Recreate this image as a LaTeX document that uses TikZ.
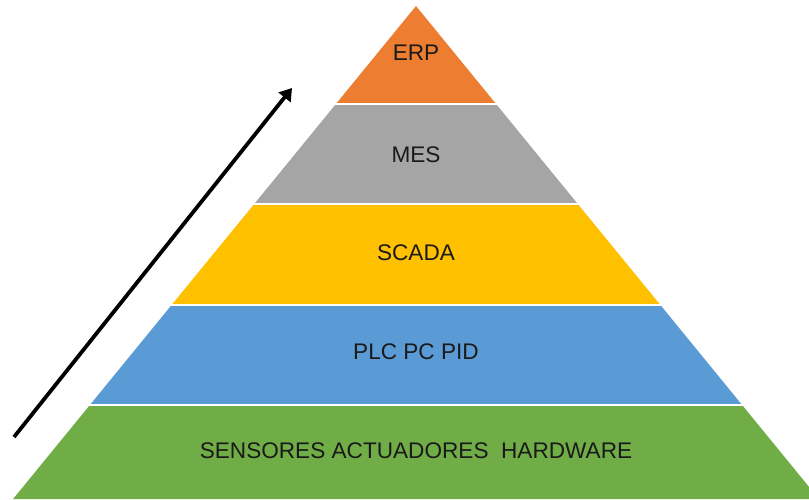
\documentclass[tikz,border=0pt]{standalone}
\usepackage{fontspec}
\setmainfont{Liberation Sans}
\usetikzlibrary{arrows.meta}
\definecolor{erpc}{HTML}{ED7D31}
\definecolor{mesc}{HTML}{A5A5A5}
\definecolor{scadac}{HTML}{FFC000}
\definecolor{plcc}{HTML}{5B9BD5}
\definecolor{sensc}{HTML}{70AD47}
\definecolor{txtc}{HTML}{1A1A1A}
\begin{document}
\begin{tikzpicture}[x=1pt,y=-1pt,
  lbl/.style={font=\fontsize{22.6}{26}\selectfont,text=txtc,inner sep=0pt}]
\useasboundingbox (0,0) rectangle (809,499);
\begin{scope}
\clip (0,0) rectangle (809,499);
% pyramid layers: apex (416,6), half-width grows 0.8174 per unit of depth
\fill[erpc]   (416,6) -- (496.1,104) -- (335.9,104) -- cycle;
\fill[mesc]   (335.9,104) -- (496.1,104) -- (577.8,204) -- (254.2,204) -- cycle;
\fill[scadac] (254.2,204) -- (577.8,204) -- (660.4,305) -- (171.6,305) -- cycle;
\fill[plcc]   (171.6,305) -- (660.4,305) -- (742.1,405) -- (89.9,405) -- cycle;
\fill[sensc]  (89.9,405) -- (742.1,405) -- (818.9,499) -- (13.1,499) -- cycle;
% white separators between layers
\draw[white,line width=1.6pt] (330,104) -- (502,104);
\draw[white,line width=1.6pt] (248,204) -- (584,204);
\draw[white,line width=1.6pt] (165,305) -- (667,305);
\draw[white,line width=1.6pt] (83,405) -- (749,405);
\end{scope}
\node[lbl] (erp)  at (416,53)  {ERP};
\node[lbl] (mes)  at (416,155) {MES};
\node[lbl] (scada) at (416,253) {SCADA};
\node[lbl] (plc)  at (416,352) {PLC PC PID};
\node[lbl] (sens) at (416,451) {SENSORES ACTUADORES\ \ HARDWARE};
% upward arrow along the left flank
\coordinate (atail) at (14,437);
\coordinate (ahead) at (292,88);
\draw[line width=3.8pt,-{Triangle[length=12pt,width=15pt]}] (atail) -- (ahead);
\end{tikzpicture}
\end{document}
